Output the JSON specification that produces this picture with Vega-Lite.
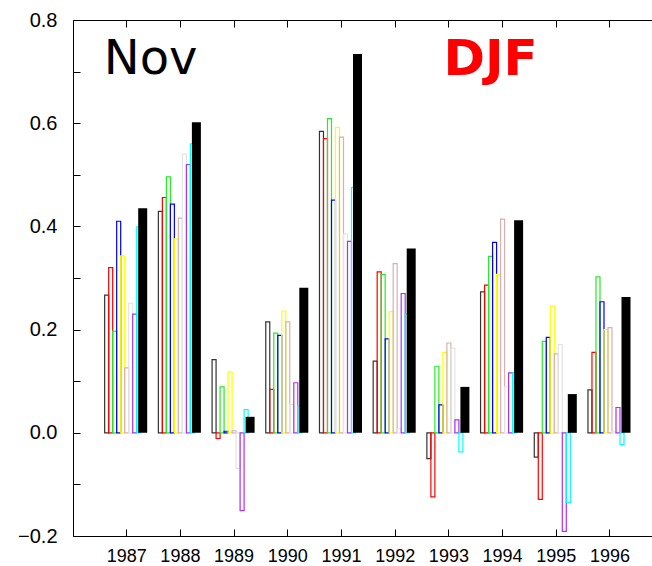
{
  "$schema": "https://vega.github.io/schema/vega-lite/v6.json",
  "autosize": "none",
  "width": 579,
  "height": 516,
  "padding": {"left": 73, "top": 20, "right": 0, "bottom": 30},
  "background": "white",
  "config": {
    "view": {"stroke": null},
    "font": "Liberation Sans",
    "axis": {"domainColor": "black", "tickColor": "black", "labelColor": "black", "tickSize": -7}
  },
  "datasets": {
    "bars": [
      {"year": "1987", "series": "black", "value": 0.267}, {"year": "1987", "series": "red", "value": 0.320}, {"year": "1987", "series": "green", "value": 0.197}, {"year": "1987", "series": "blue", "value": 0.410}, {"year": "1987", "series": "yellow", "value": 0.343}, {"year": "1987", "series": "pink", "value": 0.126}, {"year": "1987", "series": "gray", "value": 0.251}, {"year": "1987", "series": "purple", "value": 0.230}, {"year": "1987", "series": "cyan", "value": 0.399},
      {"year": "1988", "series": "black", "value": 0.429}, {"year": "1988", "series": "red", "value": 0.456}, {"year": "1988", "series": "green", "value": 0.496}, {"year": "1988", "series": "blue", "value": 0.443}, {"year": "1988", "series": "yellow", "value": 0.376}, {"year": "1988", "series": "pink", "value": 0.416}, {"year": "1988", "series": "gray", "value": 0.540}, {"year": "1988", "series": "purple", "value": 0.520}, {"year": "1988", "series": "cyan", "value": 0.560},
      {"year": "1989", "series": "black", "value": 0.142}, {"year": "1989", "series": "red", "value": -0.011}, {"year": "1989", "series": "green", "value": 0.089}, {"year": "1989", "series": "blue", "value": 0.003}, {"year": "1989", "series": "yellow", "value": 0.118}, {"year": "1989", "series": "pink", "value": 0.004}, {"year": "1989", "series": "gray", "value": -0.069}, {"year": "1989", "series": "purple", "value": -0.151}, {"year": "1989", "series": "cyan", "value": 0.045},
      {"year": "1990", "series": "black", "value": 0.215}, {"year": "1990", "series": "red", "value": 0.084}, {"year": "1990", "series": "green", "value": 0.193}, {"year": "1990", "series": "blue", "value": 0.189}, {"year": "1990", "series": "yellow", "value": 0.236}, {"year": "1990", "series": "pink", "value": 0.215}, {"year": "1990", "series": "gray", "value": 0.055}, {"year": "1990", "series": "purple", "value": 0.097}, {"year": "1990", "series": "cyan", "value": 0.052},
      {"year": "1991", "series": "black", "value": 0.584}, {"year": "1991", "series": "red", "value": 0.570}, {"year": "1991", "series": "green", "value": 0.609}, {"year": "1991", "series": "blue", "value": 0.451}, {"year": "1991", "series": "yellow", "value": 0.592}, {"year": "1991", "series": "pink", "value": 0.573}, {"year": "1991", "series": "gray", "value": 0.385}, {"year": "1991", "series": "purple", "value": 0.371}, {"year": "1991", "series": "cyan", "value": 0.475},
      {"year": "1992", "series": "black", "value": 0.139}, {"year": "1992", "series": "red", "value": 0.312}, {"year": "1992", "series": "green", "value": 0.307}, {"year": "1992", "series": "blue", "value": 0.182}, {"year": "1992", "series": "yellow", "value": 0.235}, {"year": "1992", "series": "pink", "value": 0.328}, {"year": "1992", "series": "gray", "value": 0.008}, {"year": "1992", "series": "purple", "value": 0.270}, {"year": "1992", "series": "cyan", "value": 0.230},
      {"year": "1993", "series": "black", "value": -0.050}, {"year": "1993", "series": "red", "value": -0.124}, {"year": "1993", "series": "green", "value": 0.129}, {"year": "1993", "series": "blue", "value": 0.054}, {"year": "1993", "series": "yellow", "value": 0.156}, {"year": "1993", "series": "pink", "value": 0.174}, {"year": "1993", "series": "gray", "value": 0.164}, {"year": "1993", "series": "purple", "value": 0.025}, {"year": "1993", "series": "cyan", "value": -0.037},
      {"year": "1994", "series": "black", "value": 0.273}, {"year": "1994", "series": "red", "value": 0.286}, {"year": "1994", "series": "green", "value": 0.342}, {"year": "1994", "series": "blue", "value": 0.369}, {"year": "1994", "series": "yellow", "value": 0.307}, {"year": "1994", "series": "pink", "value": 0.414}, {"year": "1994", "series": "gray", "value": 0.089}, {"year": "1994", "series": "purple", "value": 0.116}, {"year": "1994", "series": "cyan", "value": 0.116},
      {"year": "1995", "series": "black", "value": -0.047}, {"year": "1995", "series": "red", "value": -0.129}, {"year": "1995", "series": "green", "value": 0.177}, {"year": "1995", "series": "blue", "value": 0.185}, {"year": "1995", "series": "yellow", "value": 0.246}, {"year": "1995", "series": "pink", "value": 0.153}, {"year": "1995", "series": "gray", "value": 0.171}, {"year": "1995", "series": "purple", "value": -0.191}, {"year": "1995", "series": "cyan", "value": -0.135},
      {"year": "1996", "series": "black", "value": 0.083}, {"year": "1996", "series": "red", "value": 0.156}, {"year": "1996", "series": "green", "value": 0.302}, {"year": "1996", "series": "blue", "value": 0.254}, {"year": "1996", "series": "yellow", "value": 0.200}, {"year": "1996", "series": "pink", "value": 0.204}, {"year": "1996", "series": "gray", "value": 0.003}, {"year": "1996", "series": "purple", "value": 0.049}, {"year": "1996", "series": "cyan", "value": -0.023}
    ],
    "obs": [
      {"year": "1987", "series": "obs", "value": 0.435},
      {"year": "1988", "series": "obs", "value": 0.602},
      {"year": "1989", "series": "obs", "value": 0.031},
      {"year": "1990", "series": "obs", "value": 0.281},
      {"year": "1991", "series": "obs", "value": 0.734},
      {"year": "1992", "series": "obs", "value": 0.357},
      {"year": "1993", "series": "obs", "value": 0.089},
      {"year": "1994", "series": "obs", "value": 0.412},
      {"year": "1995", "series": "obs", "value": 0.075},
      {"year": "1996", "series": "obs", "value": 0.263}
    ],
    "nov": [{"year": "1987", "value": 0.722, "label": "Nov"}],
    "djf": [{"year": "1994", "value": 0.722, "label": "DJF"}]
  },
  "layer": [
    {
      "data": {"name": "bars"},
      "mark": {"type": "bar", "fillOpacity": 0, "strokeWidth": 1.2},
      "encoding": {
        "x": {
          "field": "year", "type": "nominal",
          "scale": {"domain": ["1987","1988","1989","1990","1991","1992","1993","1994","1995","1996"], "paddingInner": 0.18, "paddingOuter": 0.481, "align": 0.613},
          "axis": {"orient": "bottom", "title": "", "labelAngle": 0, "labelFontSize": 18, "labelPadding": 18}
        },
        "xOffset": {
          "field": "series", "type": "nominal",
          "scale": {"domain": ["black","red","green","blue","yellow","pink","gray","purple","cyan","obs","pad"], "paddingInner": 0, "paddingOuter": 0}
        },
        "y": {
          "field": "value", "type": "quantitative",
          "scale": {"domain": [-0.2, 0.8], "nice": false},
          "axis": {"title": "", "grid": false, "values": [-0.2,-0.1,0,0.1,0.2,0.3,0.4,0.5,0.6,0.7,0.8], "labelExpr": "round(datum.value*10) % 2 == 0 ? format(datum.value, '.1f') : ''", "labelFontSize": 20, "labelPadding": 23}
        },
        "stroke": {
          "field": "series", "type": "nominal", "legend": null,
          "scale": {"domain": ["black","red","green","blue","yellow","pink","gray","purple","cyan"], "range": ["#333333","#ff0000","#22ee22","#0000ff","#ffff00","#d8b0b0","#e4e4e4","#b030f0","#00ffff"]}
        }
      }
    },
    {
      "data": {"name": "obs"},
      "mark": {"type": "bar", "color": "black", "width": 9, "xOffset": 1.5},
      "encoding": {
        "x": {"field": "year", "type": "nominal", "axis": {"orient": "top", "title": "", "labels": false}},
        "xOffset": {"field": "series", "type": "nominal"},
        "y": {"field": "value", "type": "quantitative", "axis": null}
      }
    },
    {
      "data": {"name": "nov"},
      "mark": {"type": "text", "baseline": "middle", "align": "center", "font": "DejaVu Sans", "fontSize": 48, "color": "black", "dx": 24},
      "encoding": {
        "x": {"field": "year", "type": "nominal", "axis": null},
        "y": {"field": "value", "type": "quantitative", "axis": null},
        "text": {"field": "label"}
      }
    },
    {
      "data": {"name": "djf"},
      "mark": {"type": "text", "baseline": "middle", "align": "center", "font": "DejaVu Sans", "fontSize": 50, "fontWeight": "bold", "color": "#ff0000", "dx": -12},
      "encoding": {
        "x": {"field": "year", "type": "nominal", "axis": null},
        "y": {"field": "value", "type": "quantitative", "axis": null},
        "text": {"field": "label"}
      }
    }
  ],
  "resolve": {"axis": {"x": "independent", "y": "independent"}}
}
